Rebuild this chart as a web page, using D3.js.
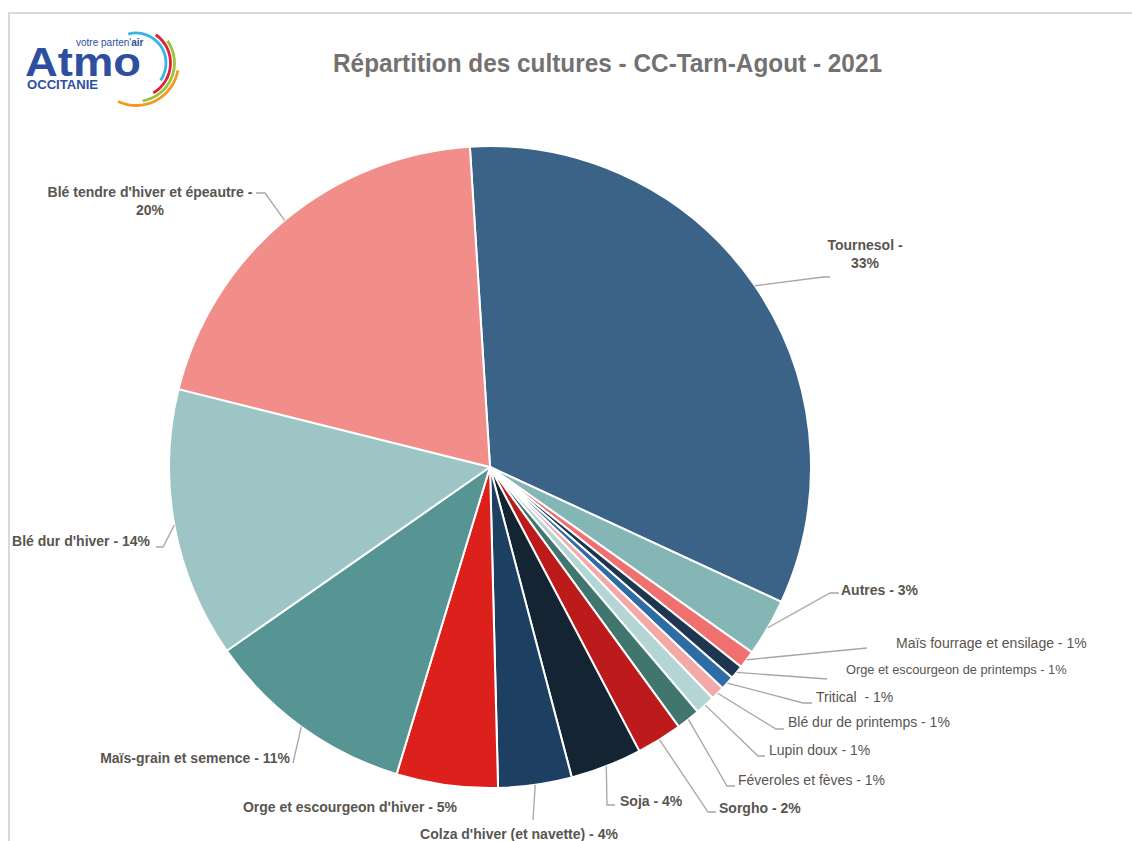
<!DOCTYPE html>
<html>
<head>
<meta charset="utf-8">
<script src="https://cdn.jsdelivr.net/npm/d3@7"></script>
<style>
  body { margin: 0; background: #fff; }
  text { white-space: pre; }
</style>
</head>
<body>
<div class="viz"></div>
<script>
// data (share of surface, %)
const cultures = [
  'Tournesol', 'Autres', 'Maïs fourrage et ensilage', 'Orge et escourgeon de printemps',
  'Tritical ', 'Blé dur de printemps', 'Lupin doux', 'Féveroles et fèves', 'Sorgho',
  'Soja', "Colza d'hiver (et navette)", "Orge et escourgeon d'hiver", 'Maïs-grain et semence',
  "Blé dur d'hiver", "Blé tendre d'hiver et épeautre"
]
const parts = [32.9, 2.9, 0.9, 0.7, 0.7, 0.7, 1.0, 1.2, 2.3, 3.6, 3.7, 5.1, 10.6, 13.6, 20.1]
const couleurs = [
  '#3b6387', '#83b6b5', '#f07070', '#1f3650', '#2e6ca6', '#f4a9a9', '#b3d6d4', '#41766f',
  '#bd1b1b', '#152433', '#1c3f62', '#dc211d', '#569593', '#9dc5c5', '#f18e8a'
]
const title = 'Répartition des cultures - CC-Tarn-Agout - 2021'

// label placement (position of text, elbow of leader line, end of leader line)
const labelLayout = {
  'Tournesol': { x: 865, y: 250, anchor: 'middle', bold: true, wrap: true, elbow: [823, 277], end: [830, 277] },
  'Autres': { x: 841, y: 595, anchor: 'start', bold: true, elbow: [830, 593], end: [839, 593] },
  'Maïs fourrage et ensilage': { x: 896, y: 648, anchor: 'start', size: 14, elbow: [867, 648], end: [867, 648] },
  'Orge et escourgeon de printemps': { x: 846, y: 674, anchor: 'start', size: 12.8, elbow: [827, 679], end: [827, 679] },
  'Tritical ': { x: 816, y: 702, anchor: 'start', elbow: [803, 703], end: [812, 703] },
  'Blé dur de printemps': { x: 788, y: 727, anchor: 'start', elbow: [776, 729], end: [784, 729] },
  'Lupin doux': { x: 769, y: 755, anchor: 'start', elbow: [758, 756], end: [765, 756] },
  'Féveroles et fèves': { x: 738, y: 785, anchor: 'start', elbow: [727, 786], end: [735, 786] },
  'Sorgho': { x: 719, y: 813, anchor: 'start', bold: true, elbow: [708, 812], end: [716, 812] },
  'Soja': { x: 620, y: 806, anchor: 'start', bold: true, elbow: [607, 805], end: [615, 805] },
  "Colza d'hiver (et navette)": { x: 519, y: 839, anchor: 'middle', bold: true, elbow: [533, 820], end: [533, 820] },
  "Orge et escourgeon d'hiver": { x: 350, y: 812, anchor: 'middle', bold: true },
  'Maïs-grain et semence': { x: 290, y: 763, anchor: 'end', bold: true, elbow: [293, 763], end: [293, 763] },
  "Blé dur d'hiver": { x: 150, y: 546, anchor: 'end', bold: true, elbow: [163, 547], end: [156, 547] },
  "Blé tendre d'hiver et épeautre": { x: 150, y: 197, anchor: 'middle', bold: true, wrap: true, elbow: [265, 193], end: [256, 193] }
}

const width = 1132, height = 841
const cx = 490, cy = 467, radius = 321
const font = "'Liberation Sans Narrow', 'Arial Narrow', 'Liberation Sans', Arial, sans-serif"
const labelColor = '#595550'

const svg = d3.select('.viz')
  .append('svg')
    .attr('width', width)
    .attr('height', height)

// chart frame
svg.append('path')
  .attr('d', `M9,${height} V13 H${width}`)
  .attr('fill', 'none')
  .attr('stroke', '#d9d9d9')
  .attr('stroke-width', 2)

// logo
const logo = svg.append('g')
logo.append('text')
  .text('Atmo')
  .attr('x', 25).attr('y', 76)
  .attr('font-family', "'Liberation Sans', Arial, sans-serif")
  .attr('font-weight', 'bold')
  .attr('font-size', 41)
  .attr('fill', '#2e4f9f')
  .attr('textLength', 116)
  .attr('lengthAdjust', 'spacingAndGlyphs')
logo.append('text')
  .attr('x', 76).attr('y', 46)
  .attr('font-family', "'Liberation Sans', Arial, sans-serif")
  .attr('font-size', 10)
  .attr('fill', '#2e4f9f')
  .call(t => {
    t.append('tspan').text("votre parten'")
    t.append('tspan').text('air').attr('font-weight', 'bold')
  })
logo.append('text')
  .text('OCCITANIE')
  .attr('x', 27).attr('y', 89)
  .attr('font-family', "'Liberation Sans', Arial, sans-serif")
  .attr('font-weight', 'bold')
  .attr('font-size', 12)
  .attr('fill', '#2e4f9f')
  .attr('textLength', 71)
  .attr('lengthAdjust', 'spacingAndGlyphs')

const logoArcs = [
  { r: 30, a0: -15, a1: 125, color: '#35b7e6' },
  { r: 34.5, a0: 35, a1: 150, color: '#e0203c' },
  { r: 38.5, a0: 55, a1: 170, color: '#9cc43a' },
  { r: 42.5, a0: 100, a1: 205, color: '#f39a1e' }
]
const rad = Math.PI / 180
logo.selectAll('path.swoosh')
  .data(logoArcs).enter().append('path')
  .attr('class', 'swoosh')
  .attr('transform', 'translate(136,63)')
  .attr('d', d => d3.arc()({ innerRadius: d.r - 1.4, outerRadius: d.r + 1.4, startAngle: d.a0 * rad, endAngle: d.a1 * rad, cornerRadius: 1.4 }))
  .attr('fill', d => d.color)

// title
svg.append('text')
  .text(title)
  .attr('x', 333).attr('y', 72)
  .attr('font-family', font)
  .attr('font-weight', 'bold')
  .attr('font-size', 26)
  .attr('fill', '#767171')
  .attr('textLength', 549)
  .attr('lengthAdjust', 'spacingAndGlyphs')

// pie
const data = cultures.map((name, i) => ({ name, value: parts[i], color: couleurs[i] }))
const total = d3.sum(parts)
const startAngle = -3.6 * rad
const pie = d3.pie().sort(null).value(d => d.value)
  .startAngle(startAngle).endAngle(startAngle + 2 * Math.PI)
const arc = d3.arc().innerRadius(0).outerRadius(radius)
const arcs = pie(data)

const g = svg.append('g').attr('transform', `translate(${cx},${cy})`)
g.selectAll('path')
  .data(arcs).enter().append('path')
  .attr('d', arc)
  .attr('fill', d => d.data.color)
  .attr('stroke', '#fff')
  .attr('stroke-width', 2)
  .attr('stroke-linejoin', 'round')

// leader lines
const edgePoint = d => {
  const a = (d.startAngle + d.endAngle) / 2
  return [cx + radius * Math.sin(a), cy - radius * Math.cos(a)]
}
svg.append('g')
  .selectAll('path')
  .data(arcs.filter(d => labelLayout[d.data.name].elbow)).enter().append('path')
  .attr('d', d => {
    const L = labelLayout[d.data.name]
    return d3.line()([edgePoint(d), L.elbow, L.end])
  })
  .attr('fill', 'none')
  .attr('stroke', '#a6a6a6')
  .attr('stroke-width', 1.3)

// labels
const fmt = v => d3.format('.0f')(v / total * 100) + '%'
svg.append('g')
  .selectAll('text')
  .data(arcs).enter().append('text')
  .attr('font-family', font)
  .attr('fill', labelColor)
  .attr('font-weight', d => labelLayout[d.data.name].bold ? 'bold' : 'normal')
  .attr('font-size', d => labelLayout[d.data.name].size || 14)
  .attr('text-anchor', d => labelLayout[d.data.name].anchor)
  .each(function (d) {
    const L = labelLayout[d.data.name]
    const t = d3.select(this)
    if (L.wrap) {
      t.append('tspan').attr('x', L.x).attr('y', L.y).text(d.data.name + ' -')
      t.append('tspan').attr('x', L.x).attr('y', L.y + 18).text(fmt(d.data.value))
    } else {
      t.attr('x', L.x).attr('y', L.y).text(d.data.name + ' - ' + fmt(d.data.value))
    }
  })
</script>
</body>
</html>
